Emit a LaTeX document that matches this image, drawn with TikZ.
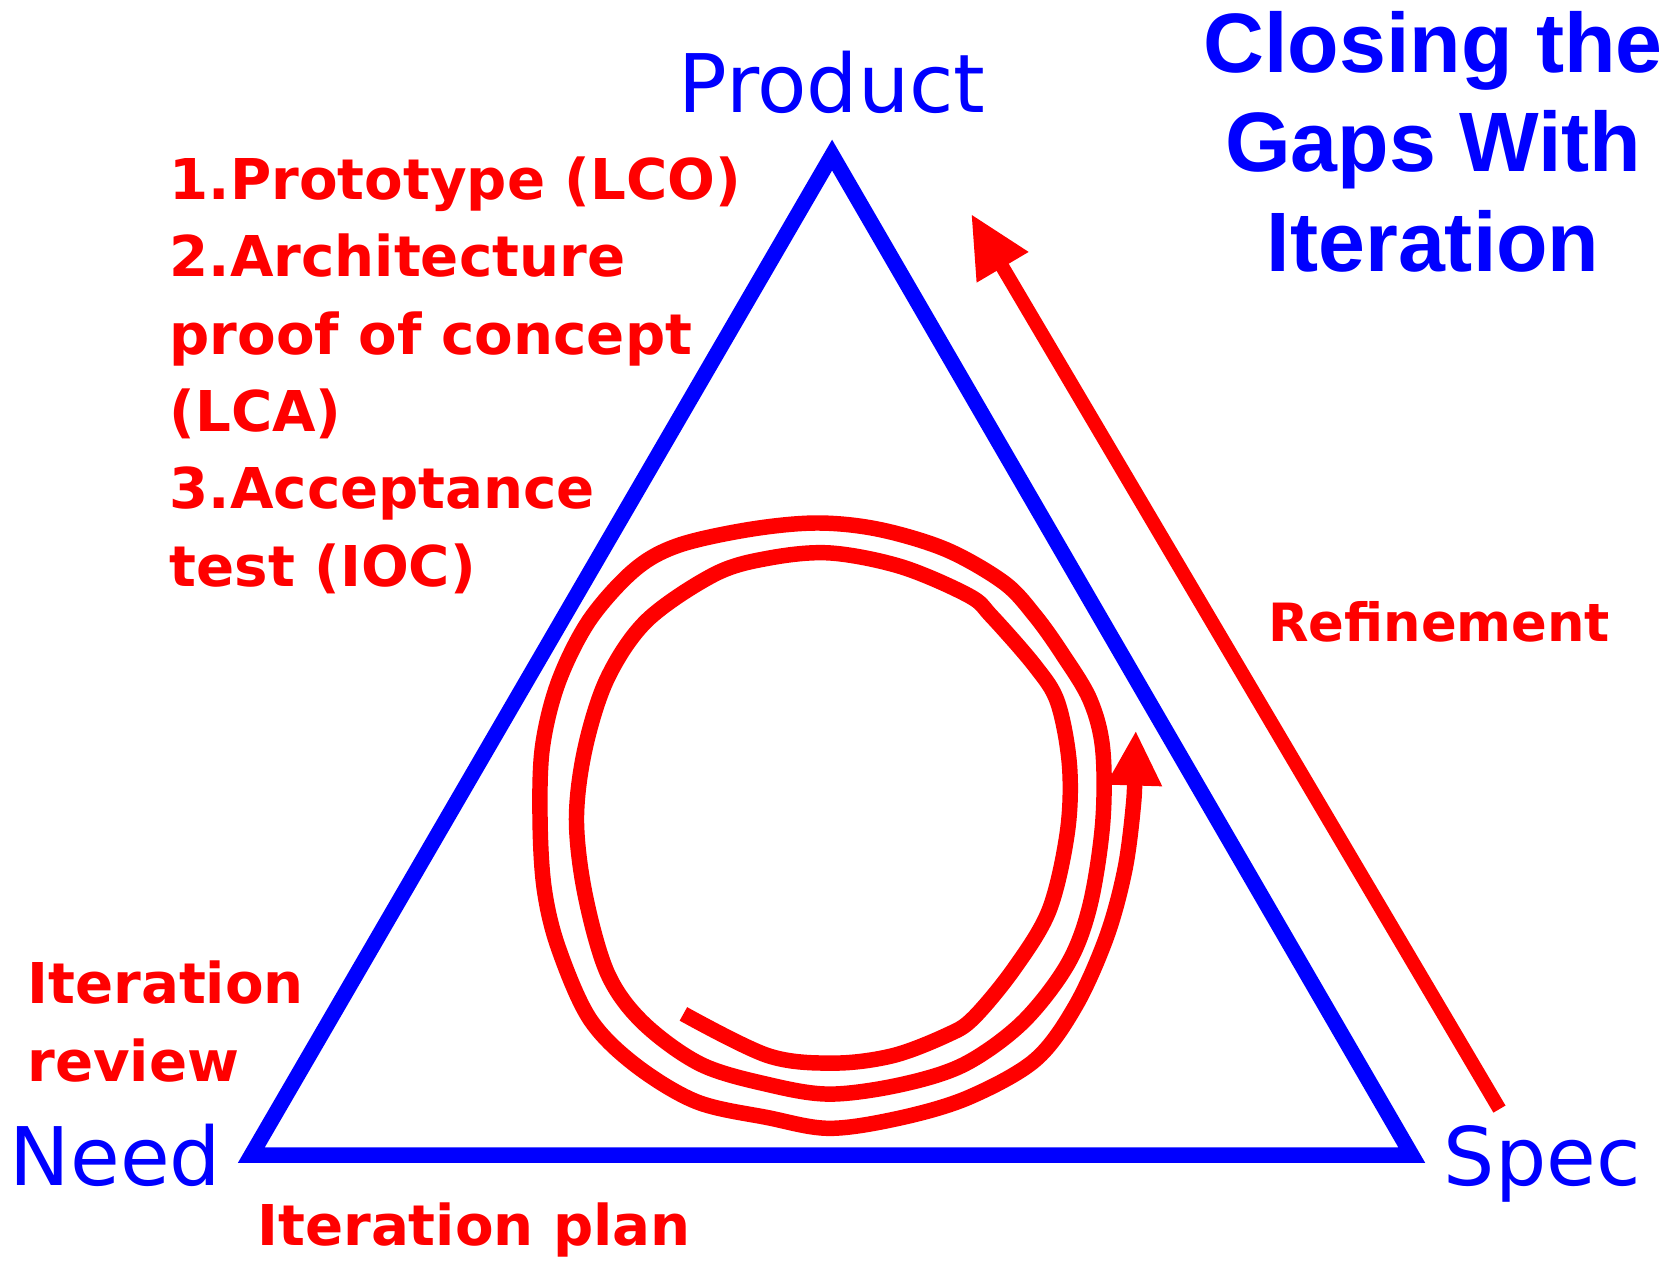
\documentclass[tikz,border=0pt]{standalone}
\usepackage{fontspec}
\usepackage{tikz}
\usetikzlibrary{arrows.meta}
\newfontfamily\handfont{DejaVu Sans}
\newfontfamily\titlefont{Liberation Sans}

\begin{document}
\begin{tikzpicture}[x=0.010695cm, y=-0.010695cm,
        corner/.style={blue, font=\handfont\fontsize{23}{28}\selectfont, inner sep=0pt, anchor=base},
        note/.style={red, font=\handfont\bfseries\fontsize{16}{22}\selectfont, inner sep=0pt, align=left}]
        \useasboundingbox (0,0) rectangle (1568,1181);

        % Triangle
        \coordinate (top) at (778,145);
        \coordinate (left) at (235,1080);
        \coordinate (right) at (1320,1080);
        \draw[blue, line width=4.4pt] (top) -- (left) -- (right) -- cycle;

        % Corner labels
        \node[corner] (product) at (778,105) {Product};
        \node[corner] (need) at (108,1108) {Need};
        \node[corner] (spec) at (1442,1108) {Spec};

        % Title
        \node[blue, font=\titlefont\bfseries\fontsize{24}{28.3}\selectfont, align=center, inner sep=0pt, anchor=north] (title) at (1340,10) {Closing the\\Gaps With\\Iteration};

        % Milestones
        \node[note, anchor=north west] (milestones) at (158,146) {1.Prototype (LCO)\\2.Architecture\\proof of concept\\(LCA)\\3.Acceptance\\test (IOC)};
        \node[note, anchor=north west] (review) at (25,898) {Iteration\\review};
        \node[note, anchor=base west] (plan) at (240,1165) {Iteration plan};
        \node[note, anchor=base west, font=\handfont\bfseries\fontsize{15}{20}\selectfont] (refine) at (1185,600) {Refinement};

        % Refinement arrow
        \coordinate (refstart) at (1402,1037);
        \coordinate (refend) at (908,200);
        \draw[red, line width=4pt, -{Triangle[length=0.62cm, width=0.56cm]}] (refstart) -- (refend);

        % Iteration spiral
        \draw[red, line width=4.4pt, -{Triangle[length=0.55cm, width=0.52cm]}] plot[smooth, tension=0.55] coordinates {
            (639,948) (718,987) (780,994) (835,987) (885,968) (910,952) (948,906) (981,851)
            (998,778) (1000,716) (989,657) (968,623) (927,576) (906,557) (843,530) (776,517)
            (718,522) (668,537) (605,580) (568,634) (547,700) (539,766) (547,836) (568,910)
            (601,956) (655,995) (718,1014) (776,1023) (843,1014) (902,995) (956,956) (998,902)
            (1019,847) (1031,770) (1031,700) (1019,654) (993,611) (968,576) (939,545) (885,514)
            (822,495) (764,489) (701,495) (634,510) (593,533) (551,580) (522,638) (507,700)
            (505,770) (509,832) (522,886) (551,952) (593,995) (651,1030) (718,1045) (776,1055)
            (843,1045) (906,1026) (968,991) (1006,940) (1035,875) (1052,812) (1060,750) (1061,715)
            (1062,683)};
    \end{tikzpicture}
\end{document}
